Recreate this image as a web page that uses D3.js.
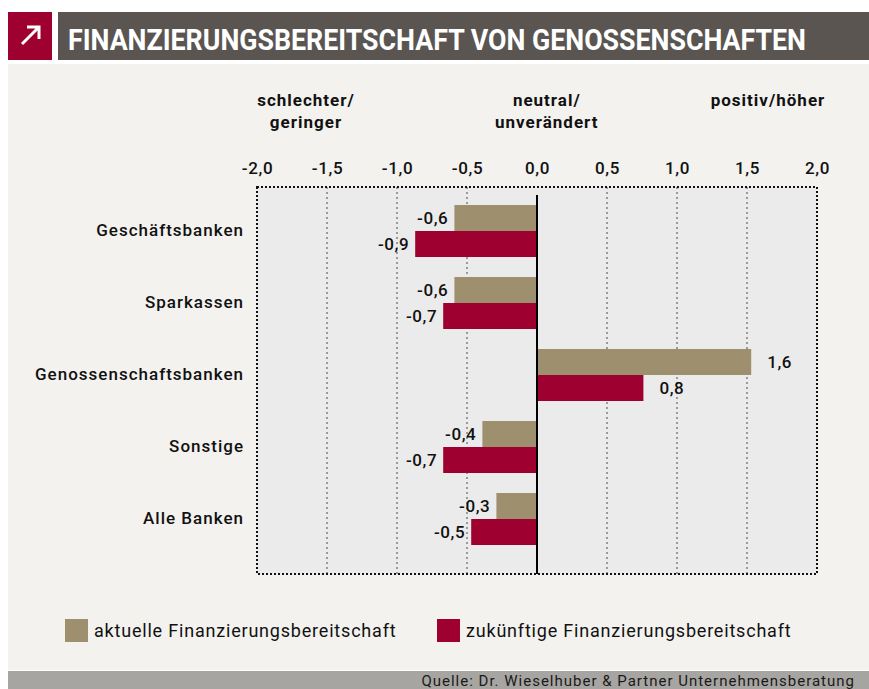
<!DOCTYPE html>
<html>
<head>
<meta charset="utf-8">
<script src="https://cdn.jsdelivr.net/npm/d3@7"></script>
<style>
  body { margin: 0; background: #fff; }
  svg { display: block; font-family: Roboto, "DejaVu Sans", sans-serif; }
</style>
</head>
<body>
<script>
const categories = ["Geschäftsbanken", "Sparkassen", "Genossenschaftsbanken", "Sonstige", "Alle Banken"];
const aktuell = [-0.59, -0.59, 1.53, -0.39, -0.29];
const zukuenftig = [-0.87, -0.67, 0.76, -0.67, -0.47];
const aktuellLabels = ["-0,6", "-0,6", "1,6", "-0,4", "-0,3"];
const zukuenftigLabels = ["-0,9", "-0,7", "0,8", "-0,7", "-0,5"];
const ticks = [-2, -1.5, -1, -0.5, 0, 0.5, 1, 1.5, 2];
const seriesNames = ["aktuelle Finanzierungsbereitschaft", "zukünftige Finanzierungsbereitschaft"];
const colors = ["#9e8f6f", "#9e0030"];

const W = 869, H = 689;
const svg = d3.select("body").append("svg")
  .attr("width", W)
  .attr("height", H);

// header
svg.append("rect").attr("x", 8).attr("y", 12).attr("width", 44).attr("height", 48).attr("fill", "#9e0030");
svg.append("path")
  .attr("d", "M22,44 L38,28 M27,27 L39,27 L39,39")
  .attr("stroke", "#fff").attr("stroke-width", 3).attr("fill", "none");
svg.append("rect").attr("x", 58).attr("y", 12).attr("width", W - 58).attr("height", 48).attr("fill", "#5a5551");
svg.append("text")
  .attr("x", 68).attr("y", 50)
  .attr("fill", "#fff")
  .attr("font-size", "29px")
  .attr("font-weight", "bold")
  .attr("textLength", 738)
  .attr("lengthAdjust", "spacingAndGlyphs")
  .text("FINANZIERUNGSBEREITSCHAFT VON GENOSSENSCHAFTEN");

// panel
svg.append("rect").attr("x", 8).attr("y", 64).attr("width", W - 8).attr("height", 606).attr("fill", "#f3f2ef");
svg.append("rect").attr("x", 8).attr("y", 671).attr("width", W - 8).attr("height", 18).attr("fill", "#a7a5a2");
svg.append("text")
  .attr("x", 855).attr("y", 686)
  .attr("text-anchor", "end")
  .attr("font-size", "15px")
  .attr("letter-spacing", "1px")
  .attr("fill", "#1a1a1a")
  .text("Quelle: Dr. Wieselhuber & Partner Unternehmensberatung");

const plot = { left: 257, right: 817, top: 187, bottom: 574 };

const x = d3.scaleLinear().domain([-2, 2]).range([plot.left, plot.right]);
const y = d3.scaleBand().domain(categories).range([195, 555]).paddingInner(20 / 72).paddingOuter(10 / 72);
const ySub = d3.scaleBand().domain([0, 1]).range([0, y.bandwidth()]);

svg.append("rect")
  .attr("x", plot.left).attr("y", plot.top)
  .attr("width", plot.right - plot.left).attr("height", plot.bottom - plot.top)
  .attr("fill", "#ebebeb");

// grid
svg.append("g")
  .selectAll("line")
  .data(ticks.filter(t => t !== 0 && Math.abs(t) !== 2))
  .join("line")
  .attr("x1", d => x(d)).attr("x2", d => x(d))
  .attr("y1", plot.top).attr("y2", plot.bottom)
  .attr("stroke", "#9a9a9a")
  .attr("stroke-width", 2)
  .attr("stroke-dasharray", "2,3");

// border
svg.append("rect")
  .attr("x", plot.left).attr("y", plot.top)
  .attr("width", plot.right - plot.left).attr("height", plot.bottom - plot.top)
  .attr("fill", "none")
  .attr("stroke", "#111")
  .attr("stroke-width", 2)
  .attr("stroke-dasharray", "2,2");

// x axis labels on top
const xAxis = svg.append("g")
  .attr("transform", `translate(0,${plot.top - 10})`)
  .call(d3.axisTop(x).tickValues(ticks).tickSize(0).tickFormat(d => d3.format(".1f")(d).replace(".", ",").replace("−", "-")));
xAxis.select(".domain").remove();
xAxis.selectAll("text")
  .attr("font-family", "Roboto, DejaVu Sans, sans-serif")
  .attr("font-size", "17px")
  .attr("font-weight", 500)
  .attr("letter-spacing", "0.6px")
  .attr("fill", "#111");

// y axis
const yAxis = svg.append("g")
  .attr("transform", `translate(${244},0)`)
  .call(d3.axisLeft(y).tickSize(0).tickPadding(0));
yAxis.select(".domain").remove();
yAxis.selectAll("text")
  .attr("font-family", "Roboto, DejaVu Sans, sans-serif")
  .attr("font-size", "17px")
  .attr("font-weight", 500)
  .attr("letter-spacing", "1px")
  .attr("fill", "#111");

// bars
const series = [
  { values: aktuell, labels: aktuellLabels, color: colors[0] },
  { values: zukuenftig, labels: zukuenftigLabels, color: colors[1] }
];

series.forEach((s, si) => {
  const rows = categories.map((c, i) => ({ cat: c, v: s.values[i], label: s.labels[i] }));
  const g = svg.append("g");
  g.selectAll("rect")
    .data(rows)
    .join("rect")
    .attr("x", d => x(Math.min(0, d.v)))
    .attr("y", d => y(d.cat) + ySub(si))
    .attr("width", d => Math.abs(x(d.v) - x(0)))
    .attr("height", ySub.bandwidth())
    .attr("fill", s.color);
  g.selectAll("text")
    .data(rows)
    .join("text")
    .attr("x", d => d.v < 0 ? x(d.v) - 6 : x(d.v) + 16)
    .attr("y", d => y(d.cat) + ySub(si) + ySub.bandwidth() / 2)
    .attr("dy", "0.35em")
    .attr("text-anchor", d => d.v < 0 ? "end" : "start")
    .attr("font-size", "17px")
    .attr("font-weight", 500)
    .attr("letter-spacing", "0.6px")
    .attr("fill", "#111")
    .text(d => d.label);
});

// zero line
svg.append("line")
  .attr("x1", x(0)).attr("x2", x(0))
  .attr("y1", plot.top + 8).attr("y2", plot.bottom)
  .attr("stroke", "#000")
  .attr("stroke-width", 2);

// direction labels
const heads = [
  { v: -1.65, lines: ["schlechter/", "geringer"] },
  { v: 0.07, lines: ["neutral/", "unverändert"] },
  { v: 1.65, lines: ["positiv/höher"] }
];
heads.forEach(h => {
  const t = svg.append("text")
    .attr("x", x(h.v)).attr("y", 106)
    .attr("text-anchor", "middle")
    .attr("font-size", "17px")
    .attr("font-weight", "bold")
    .attr("letter-spacing", "1px")
    .attr("fill", "#111");
  h.lines.forEach((l, i) => t.append("tspan").attr("x", x(h.v)).attr("dy", i === 0 ? 0 : 22).text(l));
});

// legend
const legendX = [65, 437];
seriesNames.forEach((n, i) => {
  svg.append("rect")
    .attr("x", legendX[i]).attr("y", 619)
    .attr("width", 23).attr("height", 23)
    .attr("fill", colors[i]);
  svg.append("text")
    .attr("x", legendX[i] + 29).attr("y", 631)
    .attr("dy", "0.35em")
    .attr("font-size", "18px")
    .attr("letter-spacing", "0.8px")
    .attr("fill", "#111")
    .text(n);
});
</script>
</body>
</html>
